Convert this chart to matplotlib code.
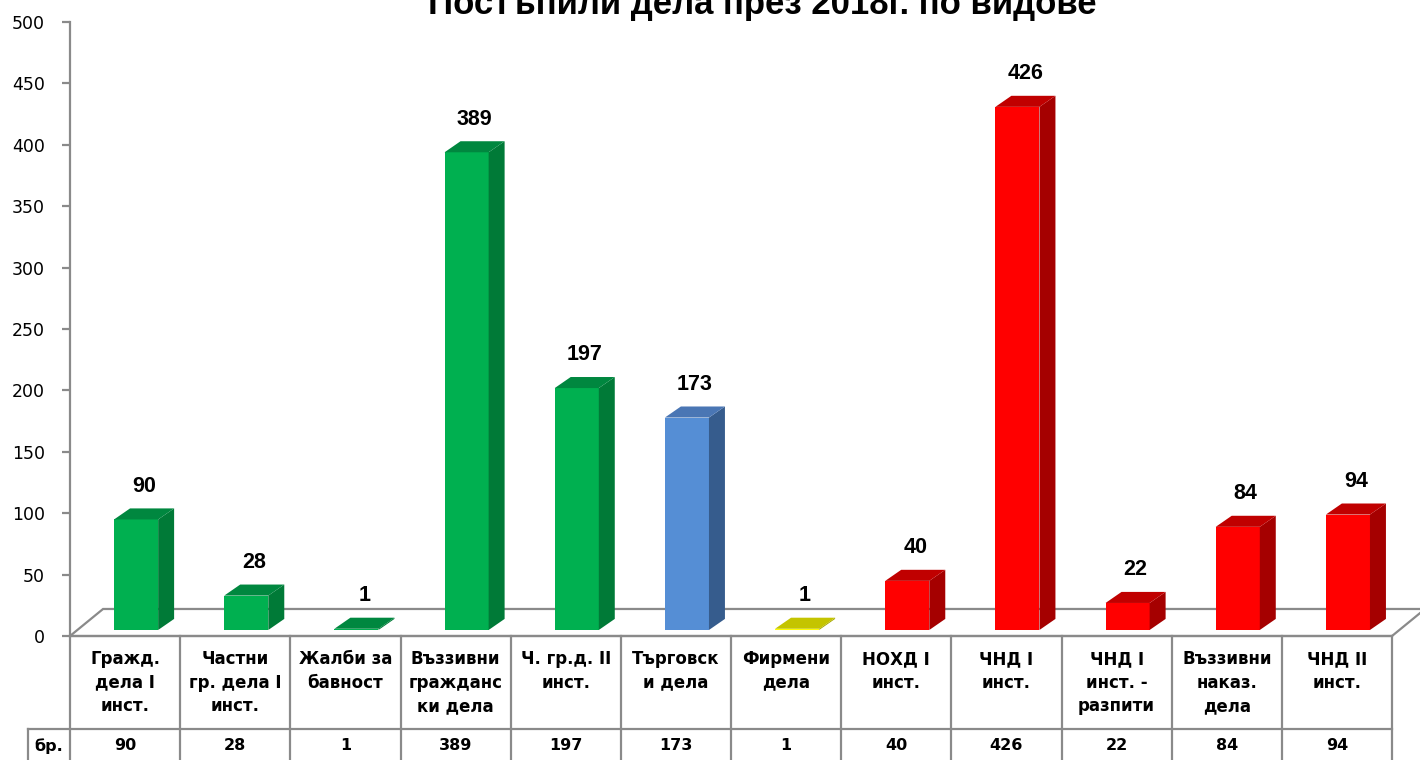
import matplotlib
matplotlib.use('Agg')
import matplotlib.pyplot as plt
from matplotlib.patches import Polygon
from matplotlib import transforms

title = 'Постъпили дела през 2018г. по видове'
categories = ['Гражд.\nдела I\nинст.', 'Частни\nгр. дела I\nинст.', 'Жалби за\nбавност',
              'Въззивни\nгражданс\nки дела', 'Ч. гр.д. II\nинст.', 'Търговск\nи дела',
              'Фирмени\nдела', 'НОХД I\nинст.', 'ЧНД I\nинст.', 'ЧНД I\nинст. -\nразпити',
              'Въззивни\nнаказ.\nдела', 'ЧНД II\nинст.']
counts = [90, 28, 1, 389, 197, 173, 1, 40, 426, 22, 84, 94]
groups = ['civil', 'civil', 'civil', 'civil', 'civil', 'trade', 'firm',
          'penal', 'penal', 'penal', 'penal', 'penal']
row_label = 'бр.'

# front, side, top
palette = {
    'civil': ('#00B050', '#007A37', '#00873F'),
    'trade': ('#558ED5', '#365C8D', '#4A76B4'),
    'firm': ('#FFFF00', '#A8A800', '#C4C400'),
    'penal': ('#FF0000', '#A50000', '#C00000'),
}
GRID = '#8A8A8A'

W, H = 1420, 760
fig = plt.figure(figsize=(W / 100, H / 100), dpi=100)
ax = fig.add_axes([70 / W, (H - 636) / H, 1322 / W, 614 / H])
n = len(counts)
ax.set_xlim(0, n)
ax.set_ylim(0, 500)

for s in ['top', 'right', 'bottom']:
    ax.spines[s].set_visible(False)
ax.spines['left'].set_color(GRID)
ax.spines['left'].set_linewidth(1.6)
ax.set_xticks([])
ax.set_yticks(range(0, 501, 50))
ax.tick_params(axis='y', length=6, width=1.6, color=GRID, pad=12, labelsize=12.5)

# floor of the 3d plot
fdx, fdy = 0.30, 22
floor = Polygon([(0, 0), (n, 0), (n + fdx, fdy), (fdx, fdy)], closed=True,
                facecolor='white', edgecolor=GRID, linewidth=1.6, clip_on=False, zorder=1)
ax.add_patch(floor)

# 3d bars
base, bw, dx, dy = 4.9, 0.40, 0.145, 9
for i, (v, g) in enumerate(zip(counts, groups)):
    front, side, top = palette[g]
    x0 = i + 0.40
    x1 = x0 + bw
    y1 = base + v
    ax.bar(x0, v, width=bw, bottom=base, align='edge', color=front, zorder=3)
    ax.add_patch(Polygon([(x1, base), (x1 + dx, base + dy), (x1 + dx, y1 + dy), (x1, y1)],
                         closed=True, facecolor=side, edgecolor='none', zorder=3))
    ax.add_patch(Polygon([(x0, y1), (x1, y1), (x1 + dx, y1 + dy), (x0 + dx, y1 + dy)],
                         closed=True, facecolor=top, edgecolor='none', zorder=3))
    ax.text(x0 + (bw + dx) / 2, y1 + dy + 18, str(v), ha='center', va='center',
            fontsize=15.5, fontweight='bold', family='Liberation Sans', zorder=4)

# data table under the chart
tr = transforms.blended_transform_factory(ax.transData, fig.transFigure)
y_top = (H - 636) / H
y_mid = (H - 729) / H
x_lab = -0.38
ax.plot([0, n], [y_top, y_top], color=GRID, lw=1.6, transform=tr, clip_on=False)
ax.plot([x_lab, n], [y_mid, y_mid], color=GRID, lw=1.6, transform=tr, clip_on=False)
for k in range(n + 1):
    ax.plot([k, k], [y_top, 0], color=GRID, lw=1.6, transform=tr, clip_on=False)
ax.plot([x_lab, x_lab], [y_mid, 0], color=GRID, lw=1.6, transform=tr, clip_on=False)

for i, (cat, v) in enumerate(zip(categories, counts)):
    ax.text(i + 0.5, (H - 650) / H, cat, ha='center', va='top', multialignment='center',
            fontsize=12, fontweight='bold', linespacing=1.4, transform=tr)
    ax.text(i + 0.5, (H - 746) / H, str(v), ha='center', va='center',
            fontsize=11.5, fontweight='bold', transform=tr)
ax.text(x_lab / 2, (H - 746) / H, row_label, ha='center', va='center',
        fontsize=11.5, fontweight='bold', transform=tr)

fig.text(762 / W, 1 - 14 / H, title, ha='center', va='baseline',
         fontsize=25, fontweight='bold', family='Liberation Sans')

fig.savefig('out.png', dpi=100)
